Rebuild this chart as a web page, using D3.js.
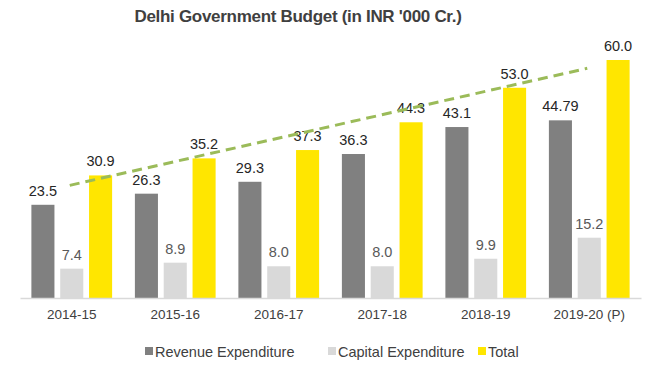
<!DOCTYPE html>
<html><head><meta charset="utf-8">
<script src="https://cdn.jsdelivr.net/npm/d3@7"></script>
<style>body{margin:0;background:#fff}text{font-family:"Liberation Sans",Arial,sans-serif}</style>
</head><body><svg id="c" width="660" height="375"></svg>
<script>
const categories = ["2014-15","2015-16","2016-17","2017-18","2018-19","2019-20 (P)"];
const revenue = [23.5, 26.3, 29.3, 36.3, 43.1, 44.79];
const capital = [7.4, 8.9, 8.0, 8.0, 9.9, 15.2];
const total = [30.9, 35.2, 37.3, 44.3, 53.0, 60.0];
const revenueLabels = ["23.5","26.3","29.3","36.3","43.1","44.79"];
const capitalLabels = ["7.4","8.9","8.0","8.0","9.9","15.2"];
const totalLabels = ["30.9","35.2","37.3","44.3","53.0","60.0"];
const trendCats = ["2014-15","2019-20 (P)"];
const trendValues = [28.4, 57.9];
const seriesNames = ["Revenue Expenditure","Capital Expenditure","Total"];
const colors = ["#808080","#D9D9D9","#FFE600"];

const svg = d3.select("#c");
const x = d3.scaleBand().domain(categories).range([20, 641]).paddingInner(0.22).paddingOuter(0.11);
const sub = d3.scaleBand().domain(seriesNames).range([0, x.bandwidth()]).paddingInner(0.2);
const y = d3.scaleLinear().domain([0, 60]).range([298, 60]);

const series = [
  {name: seriesNames[0], vals: revenue, labels: revenueLabels, color: colors[0], lc: "#262626"},
  {name: seriesNames[1], vals: capital, labels: capitalLabels, color: colors[1], lc: "#595959"},
  {name: seriesNames[2], vals: total, labels: totalLabels, color: colors[2], lc: "#262626"}
];

svg.append("text").attr("x", 298).attr("y", 22).attr("text-anchor","middle")
  .attr("font-size", 17).attr("font-weight","bold").attr("fill","#404040")
  .attr("letter-spacing", -0.3).text("Delhi Government Budget (in INR '000 Cr.)");

series.forEach(s => {
  const g = svg.append("g");
  g.selectAll("rect").data(categories).join("rect")
    .attr("x", (c) => x(c) + sub(s.name))
    .attr("width", sub.bandwidth())
    .attr("y", (c, i) => y(s.vals[i]))
    .attr("height", (c, i) => y(0) - y(s.vals[i]))
    .attr("fill", s.color);
  g.selectAll("text").data(categories).join("text")
    .attr("x", (c) => x(c) + sub(s.name) + sub.bandwidth()/2)
    .attr("y", (c, i) => y(s.vals[i]) - 9)
    .attr("text-anchor","middle").attr("font-size", 14.5).attr("fill", s.lc)
    .text((c, i) => s.labels[i]);
});

// axis
const ax = svg.append("g").attr("transform","translate(0,298)")
  .call(d3.axisBottom(x).tickSize(0).tickPadding(11));
ax.select(".domain").attr("stroke","#D9D9D9").attr("stroke-width",1.5);
ax.selectAll("text").attr("font-size",13.5).attr("fill","#404040").style("font-family","Liberation Sans, Arial, sans-serif");

// trend line
svg.append("line")
  .attr("x1", x(trendCats[0]) + x.bandwidth()/2 - 2)
  .attr("y1", y(trendValues[0]))
  .attr("x2", x(trendCats[1]) + x.bandwidth()/2 - 2)
  .attr("y2", y(trendValues[1]))
  .attr("stroke","#9BBB59").attr("stroke-width",3).attr("stroke-dasharray","10,6");

// legend
const legX = [145, 328, 478];
const lg = svg.append("g");
seriesNames.forEach((n, i) => {
  lg.append("rect").attr("x", legX[i]).attr("y", 347).attr("width", 8).attr("height", 8).attr("fill", colors[i]);
  lg.append("text").attr("x", legX[i] + 10).attr("y", 357).attr("font-size", 14.5).attr("fill","#404040").text(n);
});
</script></body></html>
